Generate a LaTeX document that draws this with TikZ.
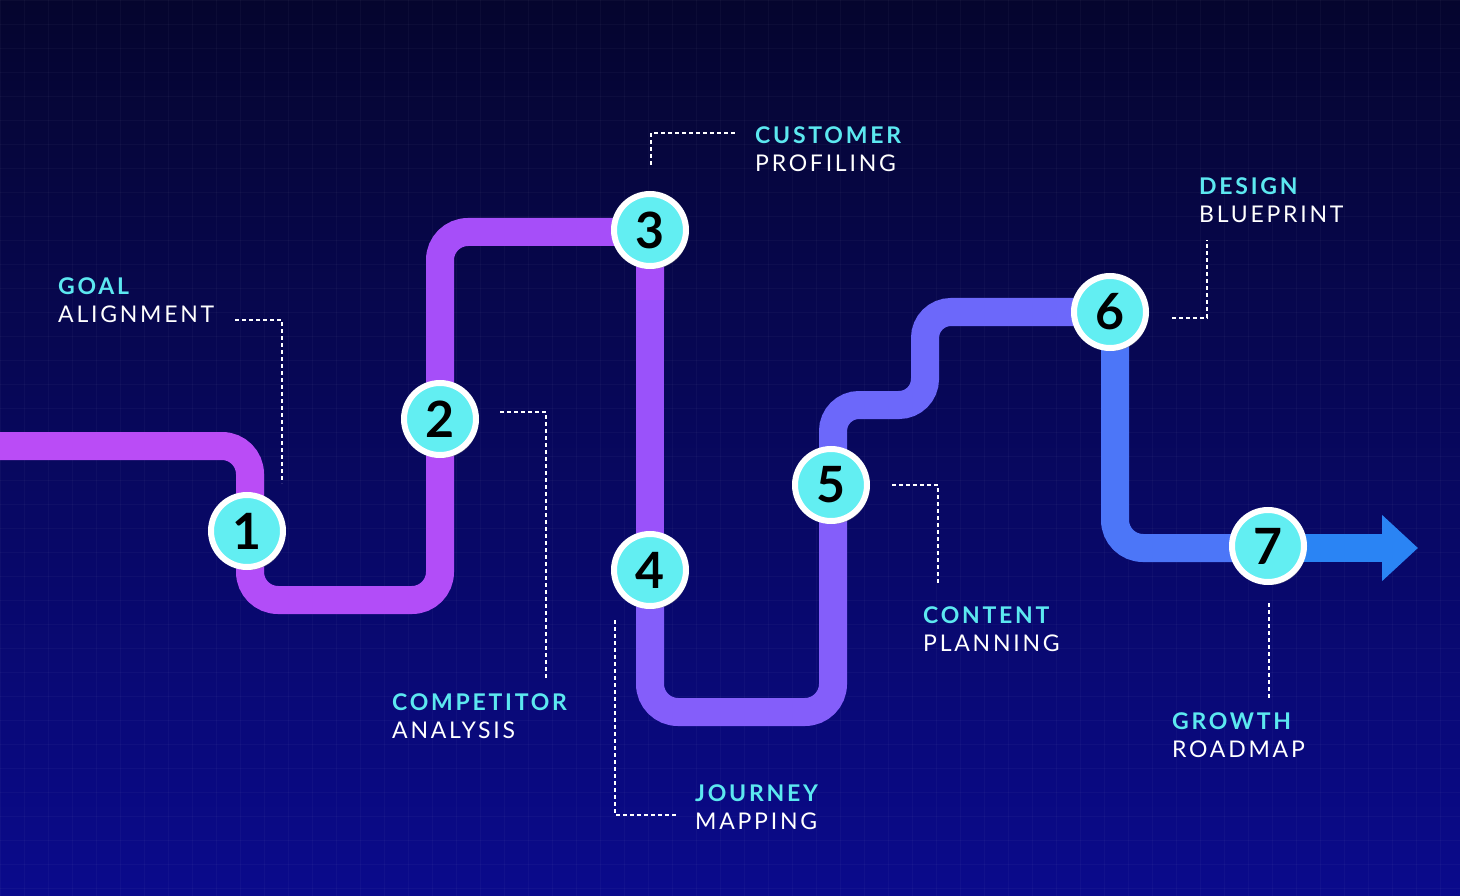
\documentclass[tikz,border=0pt]{standalone}
\usepackage{fontspec}
\setmainfont{Lato}
\usetikzlibrary{positioning,arrows.meta,shadows}
\definecolor{bgtop}{HTML}{05052E}
\definecolor{bgbot}{HTML}{0A0A8C}
\definecolor{tealtxt}{HTML}{5CE8F0}
\definecolor{dotfill}{HTML}{62EEF2}
\definecolor{pA}{HTML}{BA4CF6}
\definecolor{pB}{HTML}{B24DF8}
\definecolor{pC}{HTML}{A64EF9}
\definecolor{pD}{HTML}{9A52FA}
\definecolor{pE}{HTML}{845EFA}
\definecolor{pF}{HTML}{6C68FA}
\definecolor{pG}{HTML}{4C76F8}
\definecolor{pH}{HTML}{2A84F4}
\tikzset{>=stealth}
\begin{document}
\begin{tikzpicture}[x=1pt,y=-1pt,
  road/.style={line width=28pt,rounded corners=28pt},
  stepdot/.style={circle,fill=dotfill,draw=white,line width=6pt,minimum size=72pt,
    inner sep=0pt,font=\fontsize{50}{50}\selectfont\bfseries,text=black,
    drop shadow={shadow xshift=2pt,shadow yshift=-3pt,opacity=0.5}},
  lead/.style={white,dashed,line width=1.3pt,dash pattern=on 4pt off 3pt},
  caption/.style={anchor=north west,inner sep=0pt,align=left,text=white,
    font=\fontsize{23}{28}\selectfont\addfontfeatures{LetterSpace=12}}]
\useasboundingbox (0,0) rectangle (1460,896);
\shade[top color=bgtop,bottom color=bgbot] (0,0) rectangle (1460,896);
\foreach \g in {0,24,...,1460} \draw[white,opacity=0.03] (\g,0) -- (\g,896);
\foreach \g in {0,24,...,896} \draw[white,opacity=0.03] (0,\g) -- (1460,\g);
% road
\draw[road,pA] (0,446) -- (250,446) -- (250,531);
\draw[road,pB] (250,531) -- (250,600) -- (440,600) -- (440,419);
\draw[road,pC] (440,419) -- (440,232) -- (650,232) -- (650,300);
\draw[road,pD] (650,300) -- (650,570);
\draw[road,pE] (650,570) -- (650,712) -- (833,712) -- (833,485);
\draw[road,pF,rounded corners=26pt] (833,485) -- (833,405) -- (925,405) -- (925,312) -- (1110,312);
\draw[road,pG] (1110,312) -- (1115,312) -- (1115,548) -- (1268,548);
\coordinate (tip) at (1418,548);
\draw[pH,line width=28pt,-{Triangle[length=36pt,width=64pt]}] (1268,548) -- (tip);
% stops
\node[stepdot] (s1) at (247,531) {1};
\node[stepdot] (s2) at (440,419) {2};
\node[stepdot] (s3) at (650,230) {3};
\node[stepdot] (s4) at (650,570) {4};
\node[stepdot] (s5) at (831,485) {5};
\node[stepdot] (s6) at (1110,312) {6};
\node[stepdot] (s7) at (1268,546) {7};
% captions
\node[caption] (c1) at (58,277) {\textcolor{tealtxt}{\bfseries GOAL}\\ALIGNMENT};
\node[caption] (c2) at (392,693) {\textcolor{tealtxt}{\bfseries COMPETITOR}\\ANALYSIS};
\node[caption] (c3) at (755,126) {\textcolor{tealtxt}{\bfseries CUSTOMER}\\PROFILING};
\node[caption] (c4) at (695,784) {\textcolor{tealtxt}{\bfseries JOURNEY}\\MAPPING};
\node[caption] (c5) at (923,606) {\textcolor{tealtxt}{\bfseries CONTENT}\\PLANNING};
\node[caption] (c6) at (1199,177) {\textcolor{tealtxt}{\bfseries DESIGN}\\BLUEPRINT};
\node[caption] (c7) at (1172,712) {\textcolor{tealtxt}{\bfseries GROWTH}\\ROADMAP};
% leaders
\coordinate (l1) at (235,320); \coordinate (l1e) at (282,483);
\draw[lead] (l1) -| (l1e);
\coordinate (l2) at (500,412); \coordinate (l2e) at (546,680);
\draw[lead] (l2) -| (l2e);
\coordinate (l3) at (651,165); \coordinate (l3e) at (737,133);
\draw[lead] (l3) |- (l3e);
\coordinate (l4) at (615,620); \coordinate (l4e) at (677,815);
\draw[lead] (l4) |- (l4e);
\coordinate (l5) at (892,485); \coordinate (l5e) at (938,583);
\draw[lead] (l5) -| (l5e);
\coordinate (l6) at (1172,318); \coordinate (l6e) at (1207,240);
\draw[lead] (l6) -| (l6e);
\coordinate (l7) at (1269,603); \coordinate (l7e) at (1269,698);
\draw[lead] (l7) -- (l7e);
\end{tikzpicture}
\end{document}
